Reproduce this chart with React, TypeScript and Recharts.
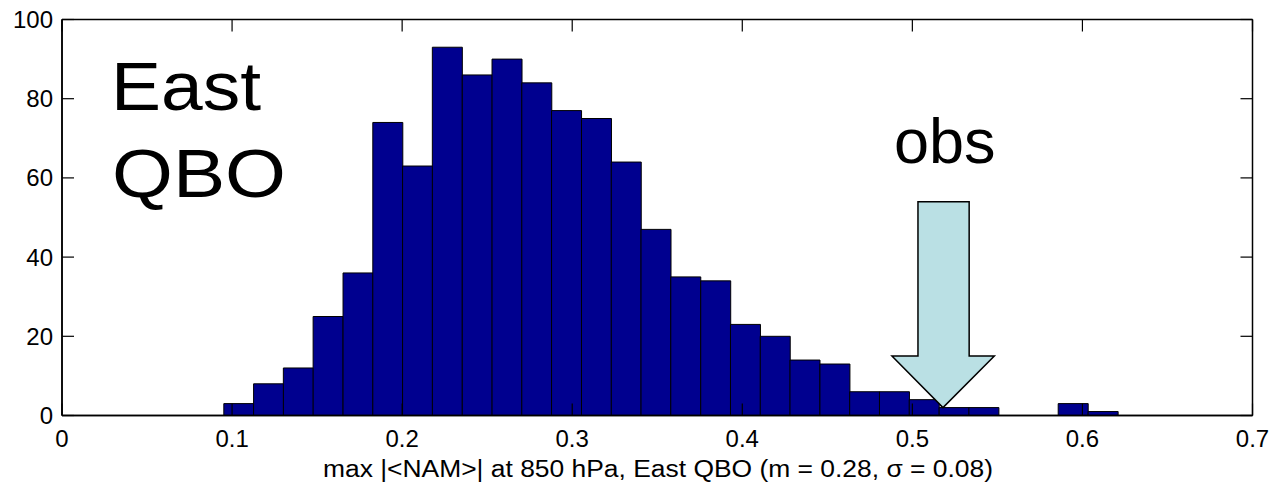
import { BarChart, Bar, XAxis, YAxis, ReferenceArea } from "recharts";

// histogram bins (30 bins, ~0.0175 wide)
const BIN_CENTERS = [
  0.1039, 0.1214, 0.1389, 0.1564, 0.174, 0.1915, 0.209, 0.2265, 0.2441, 0.2616,
  0.2791, 0.2966, 0.3142, 0.3317, 0.3492, 0.3667, 0.3843, 0.4018, 0.4193, 0.4368,
  0.4544, 0.4719, 0.4894, 0.5069, 0.5245, 0.542, 0.5595, 0.577, 0.5945, 0.6121,
];
const COUNTS = [
  3, 8, 12, 25, 36, 74, 63, 93, 86, 90,
  84, 77, 75, 64, 47, 35, 34, 23, 20, 14,
  13, 6, 6, 4, 2, 2, 0, 0, 3, 1,
];
const X_TICKS = [0, 0.1, 0.2, 0.3, 0.4, 0.5, 0.6, 0.7];
const Y_TICKS = [0, 20, 40, 60, 80, 100];

// "obs" arrow, in data units
const OBS_X = 0.518;
const OBS_SHAFT = [0.5033, 0.5334];
const OBS_HEAD = [0.488, 0.5482];
const OBS_TOP = 54;
const OBS_NECK = 15;
const OBS_TIP = 2;

const data = BIN_CENTERS.map((x, i) => ({ x, count: COUNTS[i] }));

const FONT = "'Liberation Sans', Arial, Helvetica, sans-serif";
const BAR_FILL = "#00008F";
const ARROW_FILL = "#BAE0E4";

const W = 1272;
const H = 486;

/** Arrow polygon fitted into the box the ReferenceArea gets from the scales. */
function ObsArrow(props: any) {
  const { x, y, width, height } = props;
  const fx = (v: number) => x + ((v - OBS_HEAD[0]) / (OBS_HEAD[1] - OBS_HEAD[0])) * width;
  const fy = (v: number) => y + ((OBS_TOP - v) / (OBS_TOP - OBS_TIP)) * height;
  const pts = [
    [OBS_SHAFT[0], OBS_TOP],
    [OBS_SHAFT[1], OBS_TOP],
    [OBS_SHAFT[1], OBS_NECK],
    [OBS_HEAD[1], OBS_NECK],
    [OBS_X, OBS_TIP],
    [OBS_HEAD[0], OBS_NECK],
    [OBS_SHAFT[0], OBS_NECK],
  ];
  return (
    <polygon
      points={pts.map(([a, b]) => `${fx(a)},${fy(b)}`).join(" ")}
      fill={ARROW_FILL}
      stroke="#000"
      strokeWidth={1.5}
    />
  );
}

const tickStyle = { fontSize: 24, fill: "#000", fontFamily: FONT };
const frameLine = { stroke: "#000", strokeWidth: 1.5 };
const noLabel = () => <g />;

// mirrored copies only draw the box edge and the inward tick marks
const xFrame = {
  type: "number" as const,
  dataKey: "x",
  domain: [0, 0.7],
  ticks: X_TICKS,
  allowDataOverflow: true,
  mirror: true,
  tick: noLabel,
  tickSize: 12,
  axisLine: frameLine,
  tickLine: { stroke: "#000", strokeWidth: 1.2 },
};
const yFrame = {
  type: "number" as const,
  domain: [0, 100],
  ticks: Y_TICKS,
  allowDataOverflow: true,
  mirror: true,
  tick: noLabel,
  tickSize: 12,
  axisLine: frameLine,
  tickLine: { stroke: "#000", strokeWidth: 1.2 },
};

export default function App() {
  return (
    <div style={{ position: "absolute", left: 0, top: 0, width: W, height: H, background: "#fff" }}>
      <BarChart
        width={W}
        height={H}
        data={data}
        margin={{ top: 19.5, right: 19.5, left: 0, bottom: 0 }}
        barCategoryGap={0}
        barGap={0}
      >
        <XAxis
          dataKey="x"
          type="number"
          domain={[0, 0.7]}
          ticks={X_TICKS}
          allowDataOverflow
          height={70.5}
          tickSize={0}
          tickMargin={14.5}
          tick={tickStyle}
          axisLine={frameLine}
          tickLine={false}
        />
        <XAxis xAxisId="bottomTicks" orientation="bottom" {...xFrame} />
        <XAxis xAxisId="top" orientation="top" {...xFrame} />
        <YAxis
          type="number"
          domain={[0, 100]}
          ticks={Y_TICKS}
          allowDataOverflow
          width={62}
          tickSize={0}
          tickMargin={9}
          tick={tickStyle}
          axisLine={frameLine}
          tickLine={false}
        />
        <YAxis yAxisId="leftTicks" orientation="left" {...yFrame} />
        <YAxis yAxisId="right" orientation="right" {...yFrame} />
        <Bar dataKey="count" fill={BAR_FILL} stroke="#000" strokeWidth={1} isAnimationActive={false} />
        <ReferenceArea
          x1={OBS_HEAD[0]}
          x2={OBS_HEAD[1]}
          y1={OBS_TIP}
          y2={OBS_TOP}
          shape={ObsArrow}
          zIndex={700}
        />
      </BarChart>
      <svg
        width={W}
        height={H}
        style={{ position: "absolute", left: 0, top: 0, pointerEvents: "none" }}
        fontFamily={FONT}
      >
        <text x={111} y={110} fontSize={68} textLength={150} lengthAdjust="spacingAndGlyphs">East</text>
        <text x={112} y={196.5} fontSize={68} textLength={174} lengthAdjust="spacingAndGlyphs">QBO</text>
        <text x={894} y={163} fontSize={63}>obs</text>
        <text x={323} y={477} fontSize={23} textLength={670} lengthAdjust="spacingAndGlyphs">
          max |&lt;NAM&gt;| at 850 hPa, East QBO (m = 0.28, σ = 0.08)
        </text>
      </svg>
    </div>
  );
}
